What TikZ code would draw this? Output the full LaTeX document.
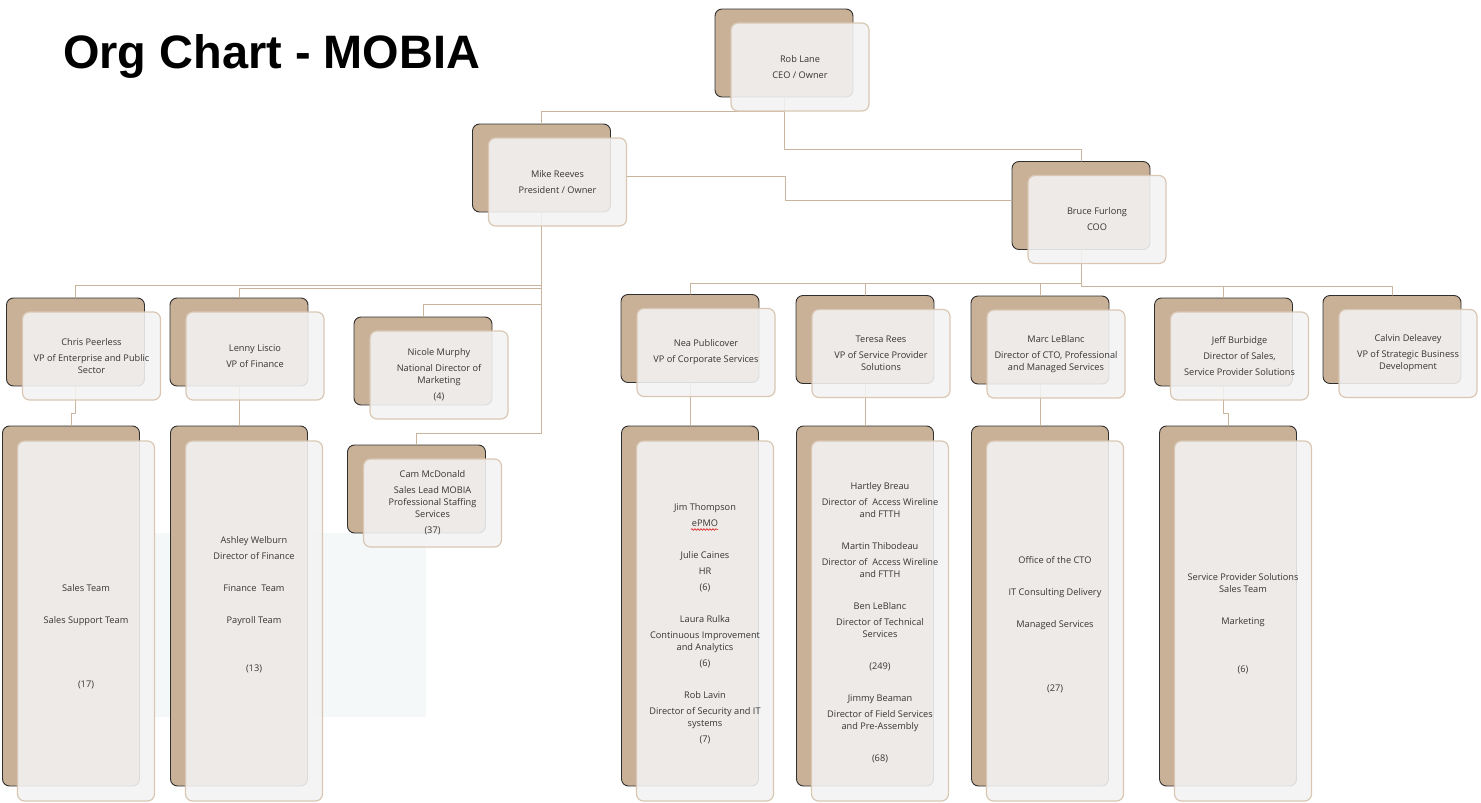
\documentclass[tikz,border=0pt]{standalone}
\usepackage{fontspec}
\setmainfont{Open Sans}
\newfontfamily\titlefont{Liberation Sans}
\usetikzlibrary{calc,decorations.pathmorphing}

\definecolor{cardtan}{HTML}{C9B198}
\definecolor{cardedge}{HTML}{2F2F2F}
\definecolor{paper}{HTML}{F3F3F3}
\definecolor{paperedge}{HTML}{D9C7B3}
\definecolor{linktan}{HTML}{C9B49E}
\definecolor{inkgray}{HTML}{363636}
\definecolor{paleblue}{HTML}{F4F8F9}

\tikzset{
	cardback/.style={draw=cardedge, fill=cardtan, line width=0.9pt, rounded corners=7pt, inner sep=0pt},
	cardfront/.style={draw=paperedge, fill=paper, fill opacity=0.88, text opacity=1, line width=1.2pt, rounded corners=7pt, inner sep=0pt, align=center, text=inkgray, font=\fontsize{9.2}{12}\selectfont},
	smallcard/.style={minimum width=138pt, minimum height=88pt},
	tallcard/.style={minimum width=137pt, minimum height=360pt},
	orgline/.style={draw=linktan, line width=0.9pt},
	cardtext/.style={inner sep=0pt, align=center, text=inkgray, font=\fontsize{9.2}{12}\selectfont}
}

\begin{document}
\begin{tikzpicture}[x=1pt, y=-1pt, line join=round, line cap=round]

			\useasboundingbox (0,0) rectangle (1481,803);

			\fill[paleblue] (154,533) rectangle (426,717);

			\node[anchor=base west, inner sep=0pt, font=\titlefont\bfseries\fontsize{46.9}{50}\selectfont] (title) at (63,68) {Org Chart - MOBIA};

			\node[cardback, smallcard] (robB) at (784,53) {};
			\node[cardback, smallcard] (mikeB) at (541.5,168) {};
			\node[cardback, smallcard] (bruceB) at (1081,205.5) {};

			\node[cardback, smallcard] (chrisB) at (75.5,342) {};
			\node[cardback, smallcard] (lennyB) at (239,342) {};
			\node[cardback, smallcard] (nicoleB) at (423,361) {};
			\node[cardback, smallcard] (camB) at (416.5,489) {};

			\node[cardback, smallcard] (neaB) at (690,338.5) {};
			\node[cardback, smallcard] (teresaB) at (865,339.5) {};
			\node[cardback, smallcard] (marcB) at (1040,340) {};
			\node[cardback, smallcard] (jeffB) at (1223.5,342) {};
			\node[cardback, smallcard] (calvinB) at (1392,339.5) {};

			\node[cardback, tallcard] (salesB) at (71,606) {};
			\node[cardback, tallcard] (financeB) at (239,606) {};
			\node[cardback, tallcard] (corpB) at (690,606) {};
			\node[cardback, tallcard] (spsB) at (865,606) {};
			\node[cardback, tallcard] (ctoB) at (1040,606) {};
			\node[cardback, tallcard] (salesspB) at (1228,606) {};

			\draw[orgline] (robB.south) -- ++(0,14) -| (mikeB.north);
			\draw[orgline] (robB.south) -- ++(0,52) -| (bruceB.north);

			\foreach \kid/\drop in {chrisB/73, lennyB/76, nicoleB/92, camB/221}
				\draw[orgline] (mikeB.south) -- ++(0,\drop) -| (\kid.north);

			\foreach \kid/\drop in {neaB/33, teresaB/33, marcB/33, jeffB/36, calvinB/36}
				\draw[orgline] (bruceB.south) -- ++(0,\drop) -| (\kid.north);

			\draw[orgline] (chrisB.south) -- ++(0,27) -| (salesB.north);
			\draw[orgline] (lennyB.south) -- (financeB.north);
			\draw[orgline] (neaB.south) -- (corpB.north);
			\draw[orgline] (teresaB.south) -- (spsB.north);
			\draw[orgline] (marcB.south) -- (ctoB.north);
			\draw[orgline] (jeffB.south) -- ++(0,27) -| (salesspB.north);

			\node[cardfront, smallcard] (rob) at ($(robB)+(16,14)$) {Rob Lane\\[4pt]CEO / Owner};
			\node[cardfront, smallcard] (mike) at ($(mikeB)+(16,14)$) {Mike Reeves\\[4pt]President / Owner};
			\node[cardfront, smallcard] (bruce) at ($(bruceB)+(16,14)$) {Bruce Furlong\\[4pt]COO};

			\node[cardfront, smallcard] (chris) at ($(chrisB)+(16,14)$) {Chris Peerless\\[4pt]VP of Enterprise and Public\\Sector};
			\node[cardfront, smallcard] (lenny) at ($(lennyB)+(16,14)$) {Lenny Liscio\\[4pt]VP of Finance};
			\node[cardfront, smallcard] (nicole) at ($(nicoleB)+(16,14)$) {Nicole Murphy\\[4pt]National Director of\\Marketing\\[4pt](4)};
			\node[cardfront, smallcard] (cam) at ($(camB)+(16,14)$) {Cam McDonald\\[4pt]Sales Lead MOBIA\\Professional Staffing\\Services\\[4pt](37)};

			\node[cardfront, smallcard] (nea) at ($(neaB)+(16,14)$) {Nea Publicover\\[4pt]VP of Corporate Services};
			\node[cardfront, smallcard] (teresa) at ($(teresaB)+(16,14)$) {Teresa Rees\\[4pt]VP of Service Provider\\Solutions};
			\node[cardfront, smallcard] (marc) at ($(marcB)+(16,14)$) {Marc LeBlanc\\[4pt]Director of CTO, Professional\\and Managed Services};
			\node[cardfront, smallcard] (jeff) at ($(jeffB)+(16,14)$) {Jeff Burbidge\\[4pt]Director of Sales,\\[4pt]Service Provider Solutions};
			\node[cardfront, smallcard] (calvin) at ($(calvinB)+(16,14)$) {Calvin Deleavey\\[4pt]VP of Strategic Business\\Development};

			\node[cardfront, tallcard] (sales) at ($(salesB)+(15,15)$) {};
			\node[cardfront, tallcard] (finance) at ($(financeB)+(15,15)$) {};
			\node[cardfront, tallcard] (corp) at ($(corpB)+(15,15)$) {};
			\node[cardfront, tallcard] (sps) at ($(spsB)+(15,15)$) {};
			\node[cardfront, tallcard] (cto) at ($(ctoB)+(15,15)$) {};
			\node[cardfront, tallcard] (salessp) at ($(salesspB)+(15,15)$) {};

			\node[cardtext] (salesT) at ($(sales)+(0,16)$) {Sales Team\\[20pt]Sales Support Team\\[52pt](17)};
			\node[cardtext] (financeT) at ($(finance)+(0,-16.5)$) {Ashley Welburn\\[4pt]Director of Finance\\[20pt]Finance\ \ Team\\[20pt]Payroll Team\\[36pt](13)};
			\node[cardtext] (corpT) at ($(corp)+(0,2.5)$) {Jim Thompson\\[4pt]ePMO\\[20pt]Julie Caines\\[4pt]HR\\[4pt](6)\\[20pt]Laura Rulka\\[4pt]Continuous Improvement\\and Analytics\\[4pt](6)\\[20pt]Rob Lavin\\[4pt]Director of Security and IT\\systems\\[4pt](7)};
			\node[cardtext] (spsT) at ($(sps)+(0,2)$) {Hartley Breau\\[4pt]Director of\ \ Access Wireline\\and FTTH\\[20pt]Martin Thibodeau\\[4pt]Director of\ \ Access Wireline\\and FTTH\\[20pt]Ben LeBlanc\\[4pt]Director of Technical\\Services\\[20pt](249)\\[20pt]Jimmy Beaman\\[4pt]Director of Field Services\\and Pre-Assembly\\[20pt](68)};
			\node[cardtext] (ctoT) at ($(cto)+(0,4)$) {Office of the CTO\\[20pt]IT Consulting Delivery\\[20pt]Managed Services\\[52pt](27)};
			\node[cardtext] (salesspT) at ($(salessp)+(0,2.5)$) {Service Provider Solutions\\Sales Team\\[20pt]Marketing\\[36pt](6)};

			\draw[red!85!black, line width=0.5pt, decorate, decoration={snake, amplitude=0.9pt, segment length=3pt}] (691,529.5) -- (718,529.5);

			\draw[orgline] ([yshift=6pt]mike.east) -- ++(158,0) |- ([yshift=5.5pt]bruceB.west);

	\end{tikzpicture}
\end{document}
